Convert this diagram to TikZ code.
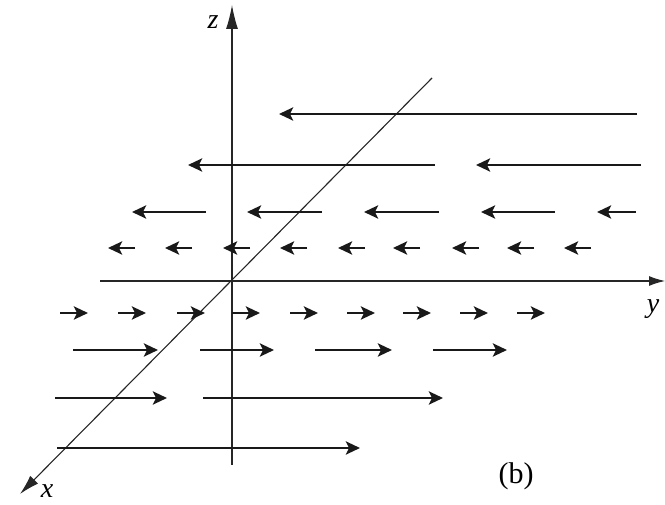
\documentclass[tikz,border=0pt]{standalone}
\usepackage{fontspec}
\setmainfont{Liberation Serif}
\usetikzlibrary{arrows.meta}
\begin{document}
\begin{tikzpicture}[x=1pt,y=-1pt,
  axis/.style={line width=1.1pt,draw=black!85},
  axtip/.style={-{Latex[length=24pt,width=12pt]}},
  vec/.style={line width=2.9pt,draw=black!90,-{Stealth[length=14pt,width=13pt,inset=3pt]}},
  lab/.style={font=\fontsize{28}{30}\selectfont\itshape,inner sep=0pt},
  tag/.style={font=\fontsize{30}{32}\selectfont,inner sep=0pt}]
\useasboundingbox (0,0) rectangle (665,505);
% axes
\coordinate (O) at (232,281);
\coordinate (zb) at (232,465);
\coordinate (zt) at (232,5);
\coordinate (yb) at (100,281);
\coordinate (yt) at (665,281);
\coordinate (xb) at (432,78);
\coordinate (xt) at (20,494);
\draw[axis,axtip] (zb) -- (zt);
\draw[axis,-{Latex[length=16pt,width=10pt]}] (yb) -- (yt);
\draw[axis,-{Latex[length=20pt,width=11pt]}] (xb) -- (xt);
\node[lab] (zl) at (213,22) {z};
\node[lab] (yl) at (653,309) {y};
\node[lab] (xl) at (47,491) {x};
\node[tag] (bl) at (516,476) {(b)};
% row 1
\draw[vec] (637,114) -- (279,114);
% row 2
\draw[vec] (435,165) -- (188,165);
\draw[vec] (641,165) -- (476,165);
% row 3
\foreach \t/\h in {206/132,322/247,439/364,555/481,636/597}
  \draw[vec] (\t,212) -- (\h,212);
% row 4
\foreach \h in {108,165,223,280,338,393,452,507,564}
  \draw[vec] (\h+27,248) -- (\h,248);
% row 5
\foreach \t in {60,118,177,232,290,347,403,460,517}
  \draw[vec] (\t,313) -- (\t+28,313);
% row 6
\foreach \t/\h in {73/158,200/274,315/392,433/507}
  \draw[vec] (\t,350) -- (\h,350);
% row 7
\draw[vec] (55,398) -- (167,398);
\draw[vec] (203,398) -- (443,398);
% row 8
\draw[vec] (57,448) -- (360,448);
\end{tikzpicture}
\end{document}
